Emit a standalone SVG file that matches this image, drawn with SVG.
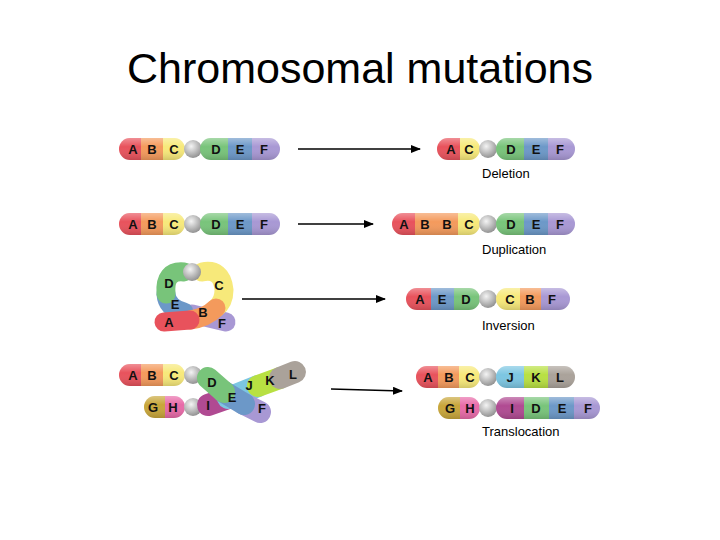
<svg xmlns="http://www.w3.org/2000/svg" width="720" height="540" viewBox="0 0 720 540">
<defs>
<style>
.l{font-family:"Liberation Sans",Arial,sans-serif;font-weight:bold;font-size:13px;text-anchor:middle;fill:#111}
.cap{font-family:"Liberation Sans",Arial,sans-serif;font-size:13px;fill:#000}
.ar{stroke:#000;stroke-width:1.3;fill:none;marker-end:url(#ah)}
.A{fill:#e8525c}.B{fill:#f49a5c}.C{fill:#f7e97a}.D{fill:#78c47a}.E{fill:#6c98c8}.F{fill:#a898d4}
.G{fill:#c8a63a}.H{fill:#e86aa8}.I{fill:#b04a92}.J{fill:#7cc6e2}.K{fill:#b8e042}.L{fill:#aaa29a}
.sh{fill:url(#shade)}
.sA{stroke:#e8525c}.sB{stroke:#f49a5c}.sC{stroke:#f7e97a}.sD{stroke:#78c47a}.sE{stroke:#6c98c8}.sF{stroke:#a898d4}
.sI{stroke:#b04a92}.sJ{stroke:#7cc6e2}.sK{stroke:#b8e042}.sL{stroke:#aaa29a}
.st{fill:none;stroke-width:22;stroke-linecap:round}
.st2{fill:none;stroke-width:19;stroke-linecap:round}
</style>
<marker id="ah" markerWidth="10" markerHeight="8" refX="9" refY="4" orient="auto" markerUnits="userSpaceOnUse"><path d="M0,0 L10,4 L0,8 Z" fill="#000"/></marker>
<linearGradient id="shade" x1="0" y1="0" x2="0" y2="1">
<stop offset="0" stop-color="#fff" stop-opacity="0.35"/><stop offset="0.4" stop-color="#fff" stop-opacity="0"/><stop offset="1" stop-color="#000" stop-opacity="0.15"/>
</linearGradient>
<radialGradient id="cen" cx="0.4" cy="0.35" r="0.7"><stop offset="0" stop-color="#f4f4f4"/><stop offset="1" stop-color="#8c8c8c"/></radialGradient>
<clipPath id="c1"><rect x="119" y="138" width="66" height="22" rx="11"/></clipPath>
<clipPath id="c2"><rect x="200" y="138" width="80" height="22" rx="11"/></clipPath>
<clipPath id="c3"><rect x="437" y="138" width="43" height="22" rx="11"/></clipPath>
<clipPath id="c4"><rect x="496" y="138" width="79" height="22" rx="11"/></clipPath>
<clipPath id="c5"><rect x="119" y="213" width="66" height="22" rx="11"/></clipPath>
<clipPath id="c6"><rect x="200" y="213" width="80" height="22" rx="11"/></clipPath>
<clipPath id="c7"><rect x="392" y="213" width="88" height="22" rx="11"/></clipPath>
<clipPath id="c8"><rect x="496" y="213" width="79" height="22" rx="11"/></clipPath>
<clipPath id="c9"><rect x="406" y="288" width="74" height="22" rx="11"/></clipPath>
<clipPath id="c10"><rect x="496" y="288" width="74" height="22" rx="11"/></clipPath>
<clipPath id="c11"><rect x="119" y="364" width="66" height="22" rx="11"/></clipPath>
<clipPath id="c12"><rect x="144" y="396" width="41" height="22" rx="11"/></clipPath>
<clipPath id="c13"><rect x="416" y="366" width="64" height="22" rx="11"/></clipPath>
<clipPath id="c14"><rect x="496" y="366" width="79" height="22" rx="11"/></clipPath>
<clipPath id="c15"><rect x="438" y="397" width="42" height="22" rx="11"/></clipPath>
<clipPath id="c16"><rect x="496" y="397" width="104" height="22" rx="11"/></clipPath>
</defs>
<rect width="720" height="540" fill="#fff"/>
<text x="360" y="83" font-family="Liberation Sans,Arial,sans-serif" font-size="43" text-anchor="middle">Chromosomal mutations</text>

<g id="connectors">
<line class="ar" x1="298" y1="149" x2="420" y2="149"/>
<line class="ar" x1="298" y1="224" x2="373" y2="224"/>
<line class="ar" x1="242" y1="299" x2="385" y2="299"/>
<line class="ar" x1="331" y1="389" x2="402" y2="391"/>
</g>

<g id="normal1">
<g clip-path="url(#c1)"><rect class="A" x="119" y="138" width="22" height="22"/><rect class="B" x="141" y="138" width="22" height="22"/><rect class="C" x="163" y="138" width="22" height="22"/><rect class="sh" x="119" y="138" width="66" height="22"/></g>
<circle cx="193" cy="149" r="9" fill="url(#cen)"/>
<g clip-path="url(#c2)"><rect class="D" x="200" y="138" width="28" height="22"/><rect class="E" x="228" y="138" width="24" height="22"/><rect class="F" x="252" y="138" width="28" height="22"/><rect class="sh" x="200" y="138" width="80" height="22"/></g>
<text class="l" x="133" y="154">A</text><text class="l" x="152" y="154">B</text><text class="l" x="174" y="154">C</text><text class="l" x="216" y="154">D</text><text class="l" x="240" y="154">E</text><text class="l" x="264" y="154">F</text>
</g>
<g id="deletion">
<g clip-path="url(#c3)"><rect class="A" x="437" y="138" width="23" height="22"/><rect class="C" x="460" y="138" width="20" height="22"/><rect class="sh" x="437" y="138" width="43" height="22"/></g>
<circle cx="488" cy="149" r="9" fill="url(#cen)"/>
<g clip-path="url(#c4)"><rect class="D" x="496" y="138" width="28" height="22"/><rect class="E" x="524" y="138" width="24" height="22"/><rect class="F" x="548" y="138" width="27" height="22"/><rect class="sh" x="496" y="138" width="79" height="22"/></g>
<text class="l" x="451" y="154">A</text><text class="l" x="469" y="154">C</text><text class="l" x="511" y="154">D</text><text class="l" x="536" y="154">E</text><text class="l" x="560" y="154">F</text>
<text class="cap" x="482" y="178">Deletion</text>
</g>

<g id="normal2">
<g clip-path="url(#c5)"><rect class="A" x="119" y="213" width="22" height="22"/><rect class="B" x="141" y="213" width="22" height="22"/><rect class="C" x="163" y="213" width="22" height="22"/><rect class="sh" x="119" y="213" width="66" height="22"/></g>
<circle cx="193" cy="224" r="9" fill="url(#cen)"/>
<g clip-path="url(#c6)"><rect class="D" x="200" y="213" width="28" height="22"/><rect class="E" x="228" y="213" width="24" height="22"/><rect class="F" x="252" y="213" width="28" height="22"/><rect class="sh" x="200" y="213" width="80" height="22"/></g>
<text class="l" x="133" y="229">A</text><text class="l" x="152" y="229">B</text><text class="l" x="174" y="229">C</text><text class="l" x="216" y="229">D</text><text class="l" x="240" y="229">E</text><text class="l" x="264" y="229">F</text>
</g>
<g id="duplication">
<g clip-path="url(#c7)"><rect class="A" x="392" y="213" width="23" height="22"/><rect class="B" x="415" y="213" width="43" height="22"/><rect class="C" x="458" y="213" width="22" height="22"/><rect class="sh" x="392" y="213" width="88" height="22"/></g>
<circle cx="488" cy="224" r="9" fill="url(#cen)"/>
<g clip-path="url(#c8)"><rect class="D" x="496" y="213" width="28" height="22"/><rect class="E" x="524" y="213" width="24" height="22"/><rect class="F" x="548" y="213" width="27" height="22"/><rect class="sh" x="496" y="213" width="79" height="22"/></g>
<text class="l" x="404" y="229">A</text><text class="l" x="425" y="229">B</text><text class="l" x="447" y="229">B</text><text class="l" x="469" y="229">C</text><text class="l" x="511" y="229">D</text><text class="l" x="536" y="229">E</text><text class="l" x="560" y="229">F</text>
<text class="cap" x="482" y="254">Duplication</text>
</g>

<g id="loop">
<path class="st2 sF" d="M192,314 L226,322"/>
<path class="st2 sE" d="M166,294 Q167,308 184,312"/>
<path class="st2 sD" d="M184,272 Q164,270 166,294"/>
<path class="st2 sC" d="M202,272 Q222,268 224,290 Q224,302 216,308"/>
<circle cx="192" cy="272" r="9" fill="url(#cen)"/>
<path class="st2 sB" d="M216,308 Q206,318 190,320"/>
<path class="st2 sA" d="M164,322 L190,320"/>
<text class="l" x="169" y="288">D</text><text class="l" x="219" y="290">C</text><text class="l" x="175" y="309">E</text><text class="l" x="203" y="317">B</text><text class="l" x="169" y="327">A</text><text class="l" x="222" y="328">F</text>
</g>
<g id="inversion">
<g clip-path="url(#c9)"><rect class="A" x="406" y="288" width="25" height="22"/><rect class="E" x="431" y="288" width="23" height="22"/><rect class="D" x="454" y="288" width="26" height="22"/><rect class="sh" x="406" y="288" width="74" height="22"/></g>
<circle cx="488" cy="299" r="9" fill="url(#cen)"/>
<g clip-path="url(#c10)"><rect class="C" x="496" y="288" width="24" height="22"/><rect class="B" x="520" y="288" width="21" height="22"/><rect class="F" x="541" y="288" width="29" height="22"/><rect class="sh" x="496" y="288" width="74" height="22"/></g>
<text class="l" x="420" y="304">A</text><text class="l" x="442" y="304">E</text><text class="l" x="466" y="304">D</text><text class="l" x="510" y="304">C</text><text class="l" x="530" y="304">B</text><text class="l" x="552" y="304">F</text>
<text class="cap" x="482" y="330">Inversion</text>
</g>

<g id="cross">
<g clip-path="url(#c11)"><rect class="A" x="119" y="364" width="22" height="22"/><rect class="B" x="141" y="364" width="22" height="22"/><rect class="C" x="163" y="364" width="22" height="22"/><rect class="sh" x="119" y="364" width="66" height="22"/></g>
<circle cx="193" cy="375" r="9" fill="url(#cen)"/>
<g clip-path="url(#c12)"><rect class="G" x="144" y="396" width="21" height="22"/><rect class="H" x="165" y="396" width="20" height="22"/><rect class="sh" x="144" y="396" width="41" height="22"/></g>
<circle cx="193" cy="407" r="9" fill="url(#cen)"/>
<path class="st sI" d="M208,405 L228,398"/>
<path class="st sJ" d="M228,398 L258,386"/>
<path class="st sK" d="M258,386 L280,378"/>
<path class="st sL" d="M280,378 L295,372"/>
<path class="st sF" d="M244,404 L260,412"/>
<path class="st sE" d="M224,392 L244,404"/>
<path class="st sD" d="M208,378 L224,392"/>
<text class="l" x="133" y="380">A</text><text class="l" x="152" y="380">B</text><text class="l" x="174" y="380">C</text>
<text class="l" x="153" y="412">G</text><text class="l" x="173" y="412">H</text>
<text class="l" x="212" y="387">D</text><text class="l" x="232" y="402">E</text><text class="l" x="262" y="413">F</text>
<text class="l" x="208" y="410">I</text><text class="l" x="249" y="390">J</text><text class="l" x="270" y="385">K</text><text class="l" x="293" y="379">L</text>
</g>
<g id="translocation">
<g clip-path="url(#c13)"><rect class="A" x="416" y="366" width="22" height="22"/><rect class="B" x="438" y="366" width="21" height="22"/><rect class="C" x="459" y="366" width="21" height="22"/><rect class="sh" x="416" y="366" width="64" height="22"/></g>
<circle cx="488" cy="377" r="9" fill="url(#cen)"/>
<g clip-path="url(#c14)"><rect class="J" x="496" y="366" width="28" height="22"/><rect class="K" x="524" y="366" width="24" height="22"/><rect class="L" x="548" y="366" width="27" height="22"/><rect class="sh" x="496" y="366" width="79" height="22"/></g>
<g clip-path="url(#c15)"><rect class="G" x="438" y="397" width="22" height="22"/><rect class="H" x="460" y="397" width="20" height="22"/><rect class="sh" x="438" y="397" width="42" height="22"/></g>
<circle cx="488" cy="408" r="9" fill="url(#cen)"/>
<g clip-path="url(#c16)"><rect class="I" x="496" y="397" width="28" height="22"/><rect class="D" x="524" y="397" width="25" height="22"/><rect class="E" x="549" y="397" width="25" height="22"/><rect class="F" x="574" y="397" width="26" height="22"/><rect class="sh" x="496" y="397" width="104" height="22"/></g>
<text class="l" x="428" y="382">A</text><text class="l" x="449" y="382">B</text><text class="l" x="470" y="382">C</text><text class="l" x="510" y="382">J</text><text class="l" x="536" y="382">K</text><text class="l" x="560" y="382">L</text>
<text class="l" x="450" y="413">G</text><text class="l" x="470" y="413">H</text><text class="l" x="512" y="413">I</text><text class="l" x="536" y="413">D</text><text class="l" x="562" y="413">E</text><text class="l" x="588" y="413">F</text>
<text class="cap" x="482" y="436">Translocation</text>
</g>
</svg>
